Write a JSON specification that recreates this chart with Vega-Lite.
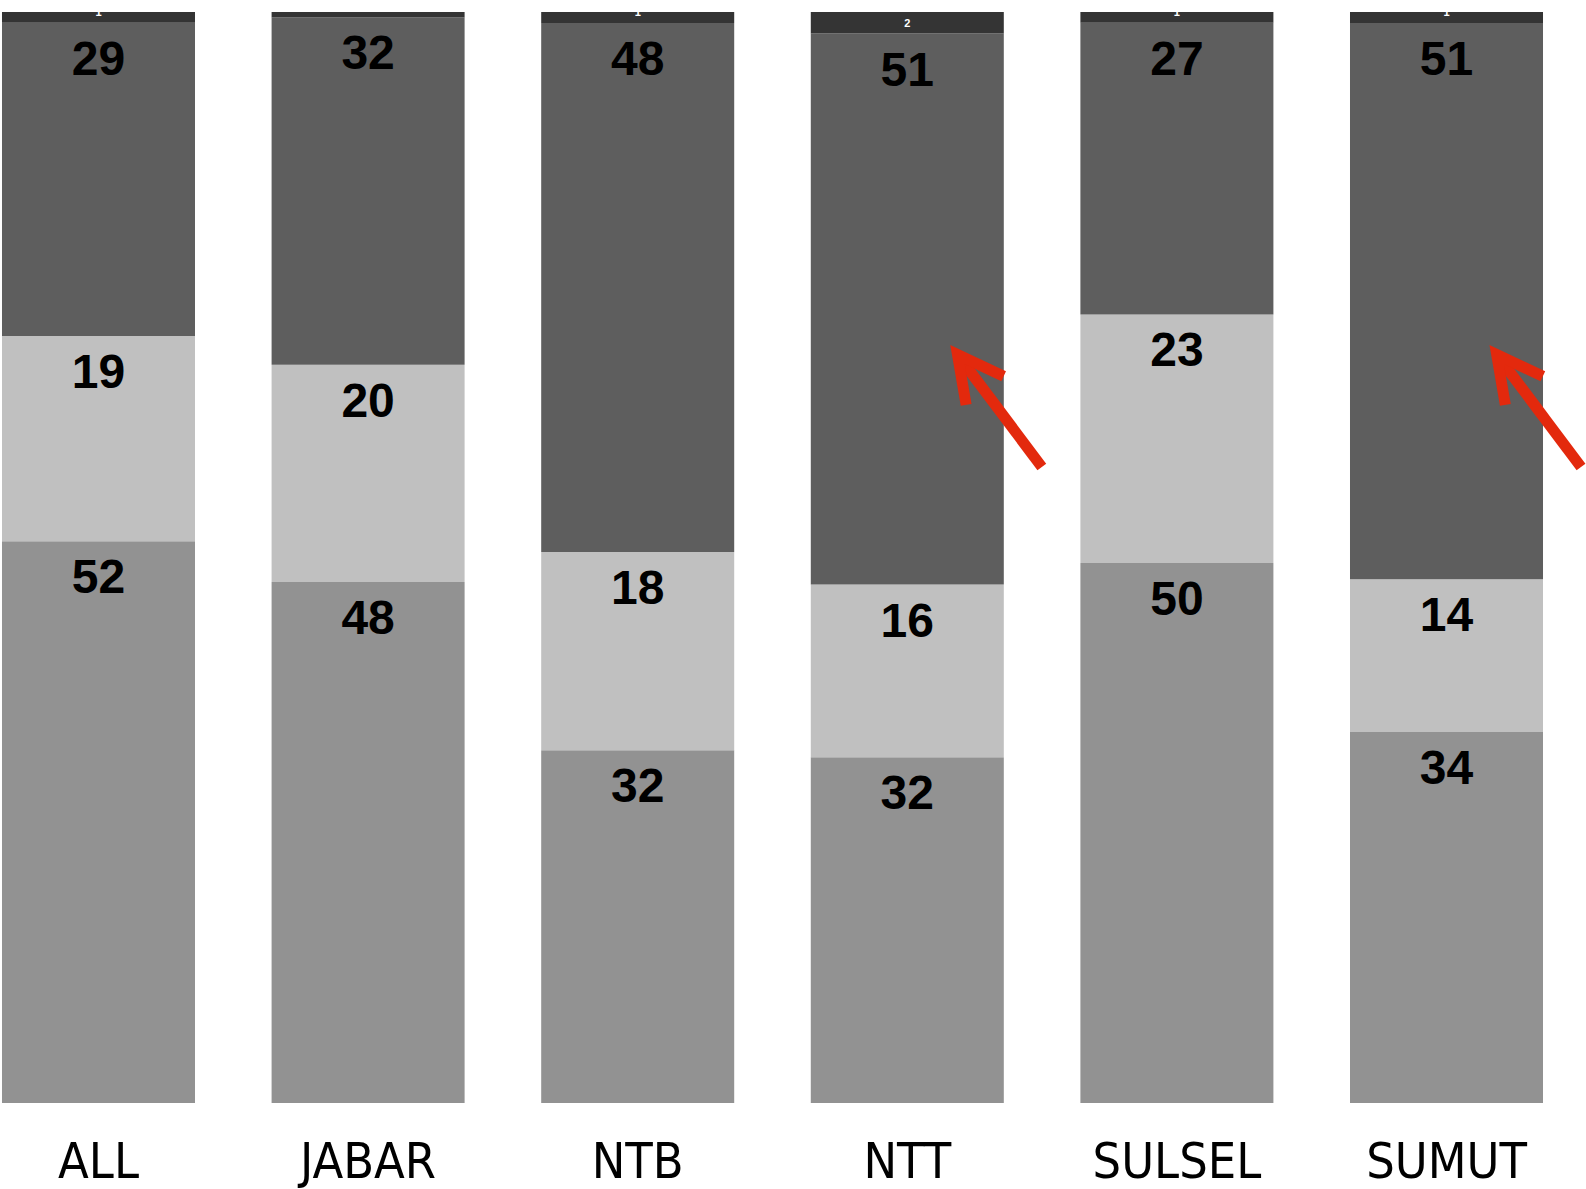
{
  "$schema": "https://vega.github.io/schema/vega-lite/v6.json",
  "autosize": {"type": "none"},
  "padding": {"top": 12, "left": 0, "right": 41, "bottom": 86},
  "width": 1545,
  "height": 1091,
  "background": "white",
  "config": {"view": {"stroke": null}},
  "datasets": {
    "shares": [
      {"group": "ALL", "segment": "s1", "order": 1, "value": 52},
      {"group": "ALL", "segment": "s2", "order": 2, "value": 19},
      {"group": "ALL", "segment": "s3", "order": 3, "value": 29},
      {"group": "ALL", "segment": "s4", "order": 4, "value": 1},
      {"group": "JABAR", "segment": "s1", "order": 1, "value": 48},
      {"group": "JABAR", "segment": "s2", "order": 2, "value": 20},
      {"group": "JABAR", "segment": "s3", "order": 3, "value": 32},
      {"group": "JABAR", "segment": "s4", "order": 4, "value": 0.5},
      {"group": "NTB", "segment": "s1", "order": 1, "value": 32},
      {"group": "NTB", "segment": "s2", "order": 2, "value": 18},
      {"group": "NTB", "segment": "s3", "order": 3, "value": 48},
      {"group": "NTB", "segment": "s4", "order": 4, "value": 1},
      {"group": "NTT", "segment": "s1", "order": 1, "value": 32},
      {"group": "NTT", "segment": "s2", "order": 2, "value": 16},
      {"group": "NTT", "segment": "s3", "order": 3, "value": 51},
      {"group": "NTT", "segment": "s4", "order": 4, "value": 2},
      {"group": "SULSEL", "segment": "s1", "order": 1, "value": 50},
      {"group": "SULSEL", "segment": "s2", "order": 2, "value": 23},
      {"group": "SULSEL", "segment": "s3", "order": 3, "value": 27},
      {"group": "SULSEL", "segment": "s4", "order": 4, "value": 1},
      {"group": "SUMUT", "segment": "s1", "order": 1, "value": 34},
      {"group": "SUMUT", "segment": "s2", "order": 2, "value": 14},
      {"group": "SUMUT", "segment": "s3", "order": 3, "value": 51},
      {"group": "SUMUT", "segment": "s4", "order": 4, "value": 1}
    ],
    "arrows": [
      {"group": "NTT", "tip": 0.686, "tail": 0.583},
      {"group": "SUMUT", "tip": 0.686, "tail": 0.583}
    ]
  },
  "layer": [
    {
      "data": {"name": "shares"},
      "transform": [
        {"stack": "value", "groupby": ["group"], "sort": [{"field": "order"}], "offset": "normalize", "as": ["y0", "y1"]}
      ],
      "layer": [
        {
          "mark": {"type": "bar"},
          "encoding": {
            "x": {
              "field": "group", "type": "nominal", "sort": null,
              "scale": {"paddingInner": 0.2841, "paddingOuter": 0.0074},
              "axis": {
                "title": null, "orient": "bottom", "domain": false, "ticks": false, "labelAngle": 0,
                "labelFont": "Liberation Sans Narrow, DejaVu Sans Condensed, sans-serif",
                "labelFontSize": 50, "labelFontWeight": "normal", "labelColor": "black",
                "labelBaseline": "alphabetic", "labelPadding": 74
              }
            },
            "y": {"field": "y0", "type": "quantitative", "scale": {"domain": [0, 1], "nice": false, "zero": true}, "axis": null},
            "y2": {"field": "y1"},
            "color": {
              "field": "segment", "type": "nominal", "legend": null,
              "scale": {"domain": ["s1", "s2", "s3", "s4"], "range": ["#929292", "#c0c0c0", "#5e5e5e", "#343434"]}
            }
          }
        },
        {
          "transform": [{"filter": "datum.order < 4"}],
          "mark": {"type": "text", "font": "Liberation Sans", "fontWeight": "bold", "fontSize": 48, "color": "black", "baseline": "middle", "align": "center", "dy": 38},
          "encoding": {
            "x": {"field": "group", "type": "nominal", "sort": null},
            "y": {"field": "y1", "type": "quantitative"},
            "text": {"field": "value", "type": "quantitative", "format": ".0f"}
          }
        },
        {
          "transform": [{"filter": "datum.order == 4"}],
          "mark": {"type": "text", "font": "Liberation Sans", "fontWeight": "bold", "fontSize": 11, "color": "white", "baseline": "middle", "align": "center", "dy": -10},
          "encoding": {
            "x": {"field": "group", "type": "nominal", "sort": null},
            "y": {"field": "y0", "type": "quantitative"},
            "text": {"field": "value", "type": "quantitative", "format": ".0f"}
          }
        }
      ]
    },
    {
      "data": {"name": "arrows"},
      "layer": [
        {
          "mark": {"type": "rule", "color": "#e3290d", "strokeWidth": 11, "strokeCap": "butt"},
          "encoding": {
            "x": {"field": "group", "type": "nominal", "sort": null, "bandPosition": 0.76},
            "x2": {"field": "group", "bandPosition": 1.197},
            "y": {"field": "tip", "type": "quantitative"},
            "y2": {"field": "tail"}
          }
        },
        {
          "mark": {
            "type": "point", "filled": false, "color": "#e3290d", "strokeWidth": 11, "opacity": 1,
            "strokeJoin": "miter", "strokeCap": "butt", "strokeMiterLimit": 10,
            "shape": "M -0.462,0.887 L 0,0 L 0.462,0.887", "size": 10404, "angle": 322.7
          },
          "encoding": {
            "x": {"field": "group", "type": "nominal", "sort": null, "bandPosition": 0.76},
            "y": {"field": "tip", "type": "quantitative"}
          }
        }
      ]
    }
  ]
}
